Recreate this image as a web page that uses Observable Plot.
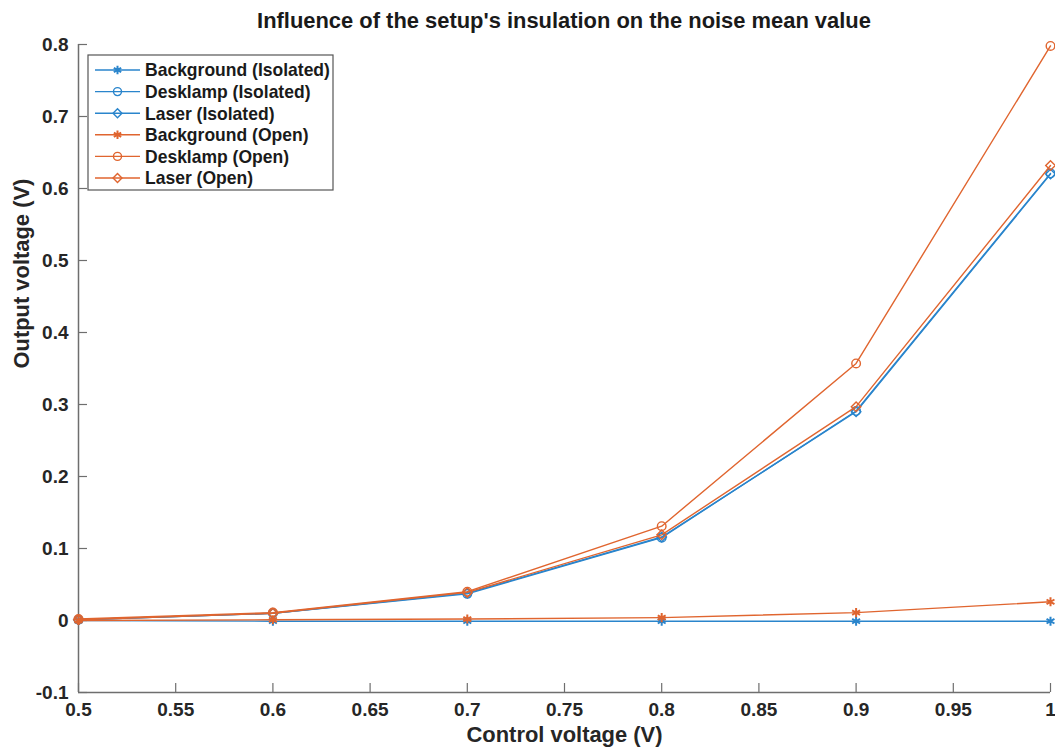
<!DOCTYPE html>
<html>
<head>
<meta charset="utf-8">
<script src="https://cdn.jsdelivr.net/npm/d3@7"></script>
<script src="https://cdn.jsdelivr.net/npm/@observablehq/plot@0.6"></script>
<style>
  html, body { margin: 0; padding: 0; background: #fff; overflow: hidden; }
  #wrap { width: 1055px; height: 751px; position: relative; overflow: hidden; }
  #title { height: 30px; padding-top: 6px; line-height: 30px; padding-left: 78px; padding-right: 5px;
           text-align: center; font-family: "Liberation Sans", Arial, sans-serif; font-weight: bold;
           color: #1a1a1a; white-space: nowrap; }
  svg { display: block; }
</style>
</head>
<body>
<div id="wrap">
  <div id="title">Influence of the setup's insulation on the noise mean value</div>
  <div id="chart"></div>
</div>
<script>
const controlVoltage = [0.5, 0.6, 0.7, 0.8, 0.9, 1.0];
const backgroundIsolated = [0.000, -0.001, -0.001, -0.001, -0.001, -0.001];
const desklampIsolated   = [0.001, 0.010, 0.037, 0.115, 0.291, 0.621];
const laserIsolated      = [0.001, 0.010, 0.038, 0.116, 0.290, 0.620];
const backgroundOpen     = [0.000, 0.001, 0.002, 0.004, 0.011, 0.026];
const desklampOpen       = [0.002, 0.011, 0.040, 0.131, 0.357, 0.798];
const laserOpen          = [0.001, 0.010, 0.039, 0.119, 0.297, 0.632];

const seriesNames = ["Background (Isolated)", "Desklamp (Isolated)", "Laser (Isolated)",
                     "Background (Open)", "Desklamp (Open)", "Laser (Open)"];
const seriesValues = [backgroundIsolated, desklampIsolated, laserIsolated,
                      backgroundOpen, desklampOpen, laserOpen];
const seriesColors = ["#2a85cc", "#2a85cc", "#2a85cc", "#e0652f", "#e0652f", "#e0652f"];
const seriesSymbols = ["asterisk", "circle", "diamond2", "asterisk", "circle", "diamond2"];

const xTicks = [0.5, 0.55, 0.6, 0.65, 0.7, 0.75, 0.8, 0.85, 0.9, 0.95, 1];
const yTicks = [-0.1, 0, 0.1, 0.2, 0.3, 0.4, 0.5, 0.6, 0.7, 0.8];

const titleText = "Influence of the setup's insulation on the noise mean value";
const xLabel = "Control voltage (V)";
const yLabel = "Output voltage (V)";

const rows = [];
seriesNames.forEach((name, i) => {
  controlVoltage.forEach((x, j) => rows.push({series: name, x, y: seriesValues[i][j], i}));
});

const fontName = "Liberation Sans";
const font = "Liberation Sans, Arial, sans-serif";
// fit a bold font size to a target width measured on the reference
const ctx = document.createElement("canvas").getContext("2d");
function fitSize(text, target) {
  ctx.font = `bold 100px "${fontName}"`;
  return 100 * target / ctx.measureText(text).width;
}
const titleSize = fitSize(titleText, 614);
const labelSize = fitSize(xLabel, 196);
const tickSize = fitSize("0.55", 37);
const legendSize = fitSize("Background (Isolated)", 185);
document.getElementById("title").style.fontSize = titleSize + "px";

const fmt = d => String(Math.round(d * 100) / 100);
const axisColor = "#6e6e6e";
const textColor = "#262626";
const W = 1055, H = 715, mT = 8, mB = 59, mL = 78, mR = 5;
const frameW = W - mL - mR, frameH = H - mT - mB;

const marks = [];
marks.push(Plot.ruleX([0.5], {stroke: axisColor, strokeWidth: 1.5}));
marks.push(Plot.ruleY([-0.1], {stroke: axisColor, strokeWidth: 1.5}));
// inward ticks
marks.push(Plot.tickX(xTicks, {x: d => d, insetTop: frameH - 9, stroke: axisColor, strokeWidth: 1.2}));
marks.push(Plot.tickY(yTicks, {y: d => d, insetRight: frameW - 9, stroke: axisColor, strokeWidth: 1.2}));
marks.push(Plot.axisX({ticks: xTicks, tickFormat: fmt, tickSize: 0, tickPadding: 10, label: null,
  fontSize: tickSize, fontWeight: "bold", fill: textColor}));
marks.push(Plot.axisY({ticks: yTicks, tickFormat: fmt, tickSize: 0, tickPadding: 10, label: null,
  fontSize: tickSize, fontWeight: "bold", fill: textColor}));
seriesNames.forEach((name, i) => {
  const data = rows.filter(r => r.i === i);
  marks.push(Plot.line(data, {x: "x", y: "y", stroke: seriesColors[i], strokeWidth: 1.4}));
  marks.push(Plot.dot(data, {x: "x", y: "y", stroke: seriesColors[i], symbol: seriesSymbols[i],
    r: 4.3, strokeWidth: seriesSymbols[i] === "asterisk" ? 2 : 1.4, fill: "none"}));
});
marks.push(Plot.text([yLabel], {frameAnchor: "left", dx: -57, rotate: -90,
  fontSize: labelSize, fontWeight: "bold", fill: textColor}));
marks.push(Plot.text([xLabel], {frameAnchor: "bottom", dy: 49,
  fontSize: labelSize, fontWeight: "bold", fill: textColor}));

const chart = Plot.plot({
  width: W,
  height: H,
  marginTop: mT,
  marginBottom: mB,
  marginLeft: mL,
  marginRight: mR,
  style: {fontFamily: font, background: "#fff", overflow: "visible"},
  x: {domain: [0.5, 1], type: "linear"},
  y: {domain: [-0.1, 0.8], type: "linear"},
  marks
});
document.getElementById("chart").appendChild(chart);

// Legend (MATLAB-style box in the upper left of the axes)
const svg = d3.select(chart);
const lg = svg.append("g").attr("transform", "translate(88,19)");
lg.append("rect").attr("width", 245).attr("height", 135).attr("fill", "#fff")
  .attr("stroke", "#555").attr("stroke-width", 1.2);
const symTypes = {asterisk: d3.symbolAsterisk, circle: d3.symbolCircle, diamond2: d3.symbolDiamond2};
seriesNames.forEach((name, i) => {
  const cy = 15 + i * 21.6;
  const row = lg.append("g").attr("transform", `translate(0,${cy})`);
  row.append("line").attr("x1", 7).attr("x2", 52).attr("y1", 0).attr("y2", 0)
    .attr("stroke", seriesColors[i]).attr("stroke-width", 1.4);
  row.append("path").attr("transform", "translate(29.5,0)")
    .attr("d", d3.symbol(symTypes[seriesSymbols[i]], Math.PI * 4 * 4)())
    .attr("fill", "none").attr("stroke", seriesColors[i])
    .attr("stroke-width", seriesSymbols[i] === "asterisk" ? 2 : 1.4);
  row.append("text").attr("x", 57).attr("y", 0).attr("dy", "0.36em")
    .attr("text-anchor", "start")
    .attr("font-family", font).attr("font-size", legendSize).attr("font-weight", "bold")
    .attr("fill", "#1a1a1a").text(name);
});
</script>
</body>
</html>
